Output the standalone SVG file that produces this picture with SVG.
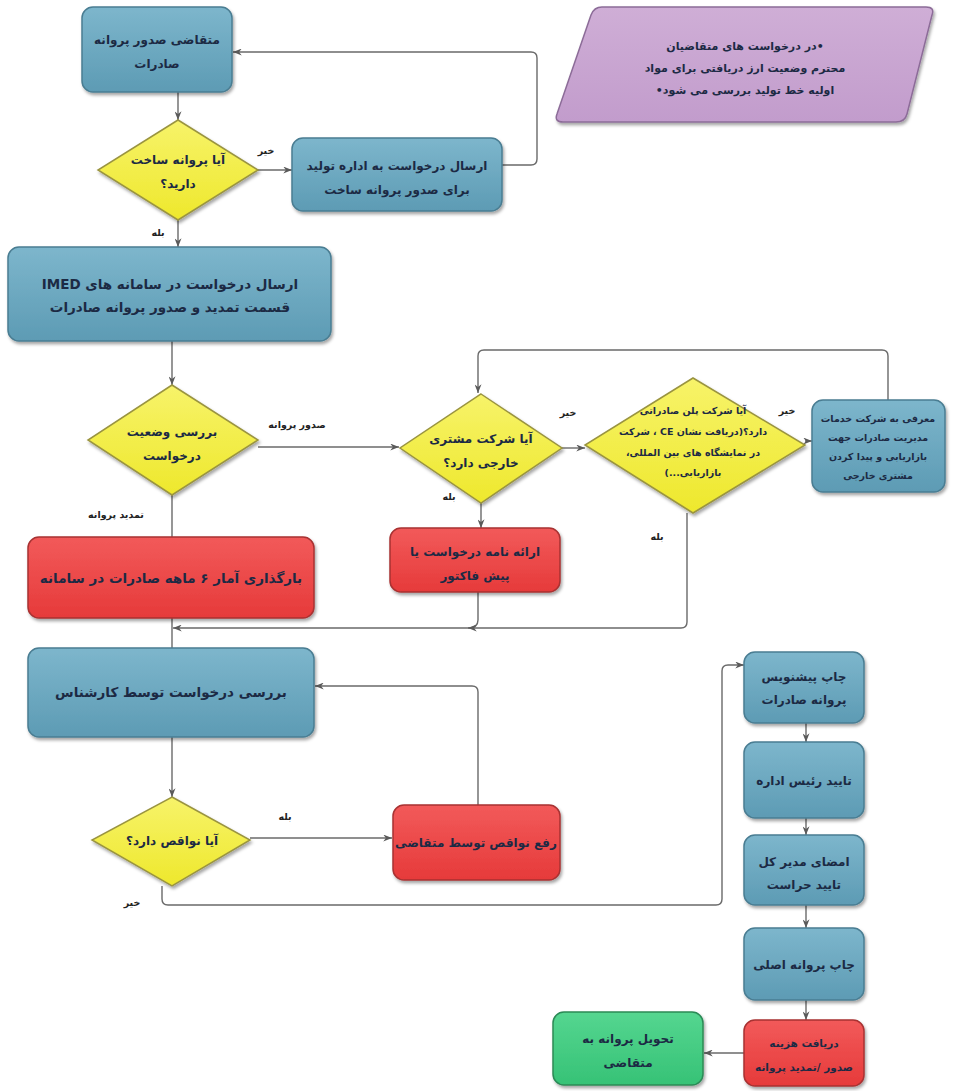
<svg xmlns="http://www.w3.org/2000/svg" width="967" height="1091" viewBox="0 0 967 1091">
<defs>
<linearGradient id="gBlue" x1="0" y1="0" x2="0" y2="1"><stop offset="0" stop-color="#7db6cc"/><stop offset="1" stop-color="#5d9bb4"/></linearGradient>
<linearGradient id="gRed" x1="0" y1="0" x2="0" y2="1"><stop offset="0" stop-color="#f25a5a"/><stop offset="1" stop-color="#e63a3a"/></linearGradient>
<linearGradient id="gYel" x1="0" y1="0" x2="0" y2="1"><stop offset="0" stop-color="#f7f36a"/><stop offset="1" stop-color="#eee82c"/></linearGradient>
<linearGradient id="gGreen" x1="0" y1="0" x2="0" y2="1"><stop offset="0" stop-color="#55d690"/><stop offset="1" stop-color="#36c276"/></linearGradient>
<linearGradient id="gPur" x1="0" y1="0" x2="0" y2="1"><stop offset="0" stop-color="#cfaed6"/><stop offset="1" stop-color="#c29ccc"/></linearGradient>
<filter id="sh" x="-10%" y="-10%" width="130%" height="140%"><feDropShadow dx="1.5" dy="2.5" stdDeviation="1.8" flood-color="#000" flood-opacity="0.35"/></filter>
<marker id="ar" viewBox="0 0 10 8" refX="10" refY="4" markerWidth="9" markerHeight="7" markerUnits="userSpaceOnUse" orient="auto"><path d="M0,0 L10,4 L0,8 L3,4 z" fill="#5a5a5a"/></marker>
<style>
.blue{fill:url(#gBlue);stroke:#4a7d92;stroke-width:1.5;filter:url(#sh)}
.red{fill:url(#gRed);stroke:#a83232;stroke-width:1.5;filter:url(#sh)}
.yel{fill:url(#gYel);stroke:#9a9440;stroke-width:1.5;filter:url(#sh)}
.green{fill:url(#gGreen);stroke:#2c8a56;stroke-width:1.5;filter:url(#sh)}
.pur{fill:url(#gPur);stroke:#8c6c98;stroke-width:1.5;filter:url(#sh)}
text{font-family:"DejaVu Sans","Noto Sans",sans-serif;font-weight:bold;fill:#1c2a44;text-anchor:middle;direction:rtl}
.t{font-size:12px}
.b{font-size:13.5px}
.s{font-size:9.5px}
.p{font-size:11px}
.n{font-size:10.5px}
.l{font-size:9.5px;fill:#222}
.c{fill:none;stroke:#6a6a6a;stroke-width:1.4}
.ca{fill:none;stroke:#6a6a6a;stroke-width:1.4;marker-end:url(#ar)}
</style>
</defs>
<rect width="967" height="1091" fill="#ffffff"/>

<g id="connectors">
<path class="ca" d="M178,92 V120"/>
<path class="ca" d="M258,170 H292"/>
<path class="ca" d="M502,165 H531 Q537,165 537,159 V58 Q537,52 531,52 H233"/>
<path class="ca" d="M178,220 V247"/>
<path class="ca" d="M172,341 V385"/>
<path class="ca" d="M258,447 H399"/>
<path class="ca" d="M562,448 H585"/>
<path class="ca" d="M805,441 H812"/>
<path class="ca" d="M888,400 V356 Q888,350 882,350 H484 Q478,350 478,356 V393"/>
<path class="ca" d="M481,503 V528"/>
<path class="ca" d="M687,513 V622 Q687,628 681,628 H173"/>
<path class="ca" d="M478,592 V620 Q478,628 468,628"/>
<path class="c" d="M172,495 V537"/>
<path class="c" d="M172,618 V648"/>
<path class="ca" d="M478,805 V692 Q478,686 472,686 H315"/>
<path class="ca" d="M172,737 V797"/>
<path class="ca" d="M250,838 H392"/>
<path class="ca" d="M162,886 V899 Q162,905 168,905 H716 Q722,905 722,899 V671 Q722,665 728,665 H744"/>
<path class="ca" d="M806,723 V742"/>
<path class="ca" d="M806,818 V835"/>
<path class="ca" d="M806,905 V928"/>
<path class="ca" d="M806,1000 V1020"/>
<path class="ca" d="M744,1053 H704"/>
</g>
<g id="labels">
<text class="l" x="266" y="154">خیر</text>
<text class="l" x="158" y="236">بله</text>
<text class="l" x="297" y="428">صدور پروانه</text>
<text class="l" x="116" y="518">تمدید پروانه</text>
<text class="l" x="568" y="416">خیر</text>
<text class="l" x="787" y="414">خیر</text>
<text class="l" x="449" y="500">بله</text>
<text class="l" x="657" y="540">بله</text>
<text class="l" x="285" y="820">بله</text>
<text class="l" x="132" y="906">خیر</text>
</g>

<g id="n1"><rect class="blue" x="82" y="7" width="150" height="85" rx="11"/>
<text class="t" x="157" y="44">متقاضی صدور پروانه</text><text class="t" x="157" y="68">صادرات</text></g>

<g id="note"><path class="pur" d="M602,7 H926 Q935,7 932,15 L907,114 Q905,122 896,122 H563 Q554,122 557,114 L591,15 Q594,7 602,7 Z"/>
<text class="p" x="745" y="50">•در درخواست های متقاضیان</text>
<text class="p" x="745" y="72">محترم وضعیت ارز دریافتی برای مواد</text>
<text class="p" x="745" y="94">اولیه خط تولید بررسی می شود•</text></g>

<g id="d1"><path class="yel" d="M178,120 L258,170 L178,220 L98,170 Z"/>
<text class="t" x="178" y="164">آیا پروانه ساخت</text><text class="t" x="178" y="188">دارید؟</text></g>

<g id="n2"><rect class="blue" x="292" y="138" width="210" height="73" rx="11"/>
<text class="t" x="397" y="170">ارسال درخواست به اداره تولید</text><text class="t" x="397" y="194">برای صدور پروانه ساخت</text></g>

<g id="n3"><rect class="blue" x="8" y="247" width="323" height="94" rx="11"/>
<text class="b" x="170" y="289">ارسال درخواست در سامانه های IMED</text><text class="b" x="170" y="312">قسمت تمدید و صدور پروانه صادرات</text></g>

<g id="d2"><path class="yel" d="M172,385 L258,440 L172,495 L88,440 Z"/>
<text class="t" x="172" y="436">بررسی وضعیت</text><text class="t" x="172" y="460">درخواست</text></g>

<g id="d3"><path class="yel" d="M481,394 L562,448 L481,503 L400,448 Z"/>
<text class="t" x="481" y="443">آیا شرکت مشتری</text><text class="t" x="481" y="467">خارجی دارد؟</text></g>

<g id="d4"><path class="yel" d="M693,378 L805,445 L693,513 L585,445 Z"/>
<text class="s" x="693" y="414">آیا شرکت پلن صادراتی</text>
<text class="s" x="693" y="435">دارد؟(دریافت نشان CE ، شرکت</text>
<text class="s" x="693" y="456">در نمایشگاه های بین المللی،</text>
<text class="s" x="693" y="476">بازاریابی...)</text></g>

<g id="n5"><rect class="blue" x="812" y="400" width="133" height="92" rx="11"/>
<text class="s" x="878" y="422">معرفی به شرکت خدمات</text>
<text class="s" x="878" y="441">مدیریت صادرات جهت</text>
<text class="s" x="878" y="460">بازاریابی و پیدا کردن</text>
<text class="s" x="878" y="479">مشتری خارجی</text></g>

<g id="n4"><rect class="red" x="390" y="528" width="170" height="64" rx="11"/>
<text class="t" x="475" y="556">ارائه نامه درخواست یا</text><text class="t" x="475" y="580">پیش فاکتور</text></g>

<g id="n6"><rect class="red" x="28" y="537" width="286" height="81" rx="11"/>
<text class="b" x="171" y="583">بارگذاری آمار ۶ ماهه صادرات در سامانه</text></g>

<g id="n7"><rect class="blue" x="28" y="648" width="286" height="89" rx="11"/>
<text class="b" x="171" y="697">بررسی درخواست توسط کارشناس</text></g>

<g id="d5"><path class="yel" d="M172,797 L250,840 L172,886 L92,840 Z"/>
<text class="t" x="172" y="845">آیا نواقص دارد؟</text></g>

<g id="n8"><rect class="red" x="393" y="805" width="167" height="75" rx="11"/>
<text class="t" x="476" y="847">رفع نواقص توسط متقاضی</text></g>

<g id="n9"><rect class="blue" x="744" y="652" width="120" height="71" rx="11"/>
<text class="t" x="804" y="681">چاپ پیشنویس</text><text class="t" x="804" y="704">پروانه صادرات</text></g>

<g id="n10"><rect class="blue" x="744" y="742" width="120" height="76" rx="11"/>
<text class="t" x="804" y="785">تایید رئیس اداره</text></g>

<g id="n11"><rect class="blue" x="744" y="835" width="120" height="70" rx="11"/>
<text class="t" x="804" y="866">امضای مدیر کل</text><text class="t" x="804" y="889">تایید حراست</text></g>

<g id="n12"><rect class="blue" x="744" y="928" width="120" height="72" rx="11"/>
<text class="t" x="804" y="969">چاپ پروانه اصلی</text></g>

<g id="n13"><rect class="red" x="744" y="1020" width="120" height="66" rx="11"/>
<text class="n" x="804" y="1047">دریافت هزینه</text><text class="n" x="804" y="1071">صدور /تمدید پروانه</text></g>

<g id="n14"><rect class="green" x="553" y="1012" width="150" height="73" rx="11"/>
<text class="t" x="628" y="1043">تحویل پروانه به</text><text class="t" x="628" y="1067">متقاضی</text></g>
</svg>
